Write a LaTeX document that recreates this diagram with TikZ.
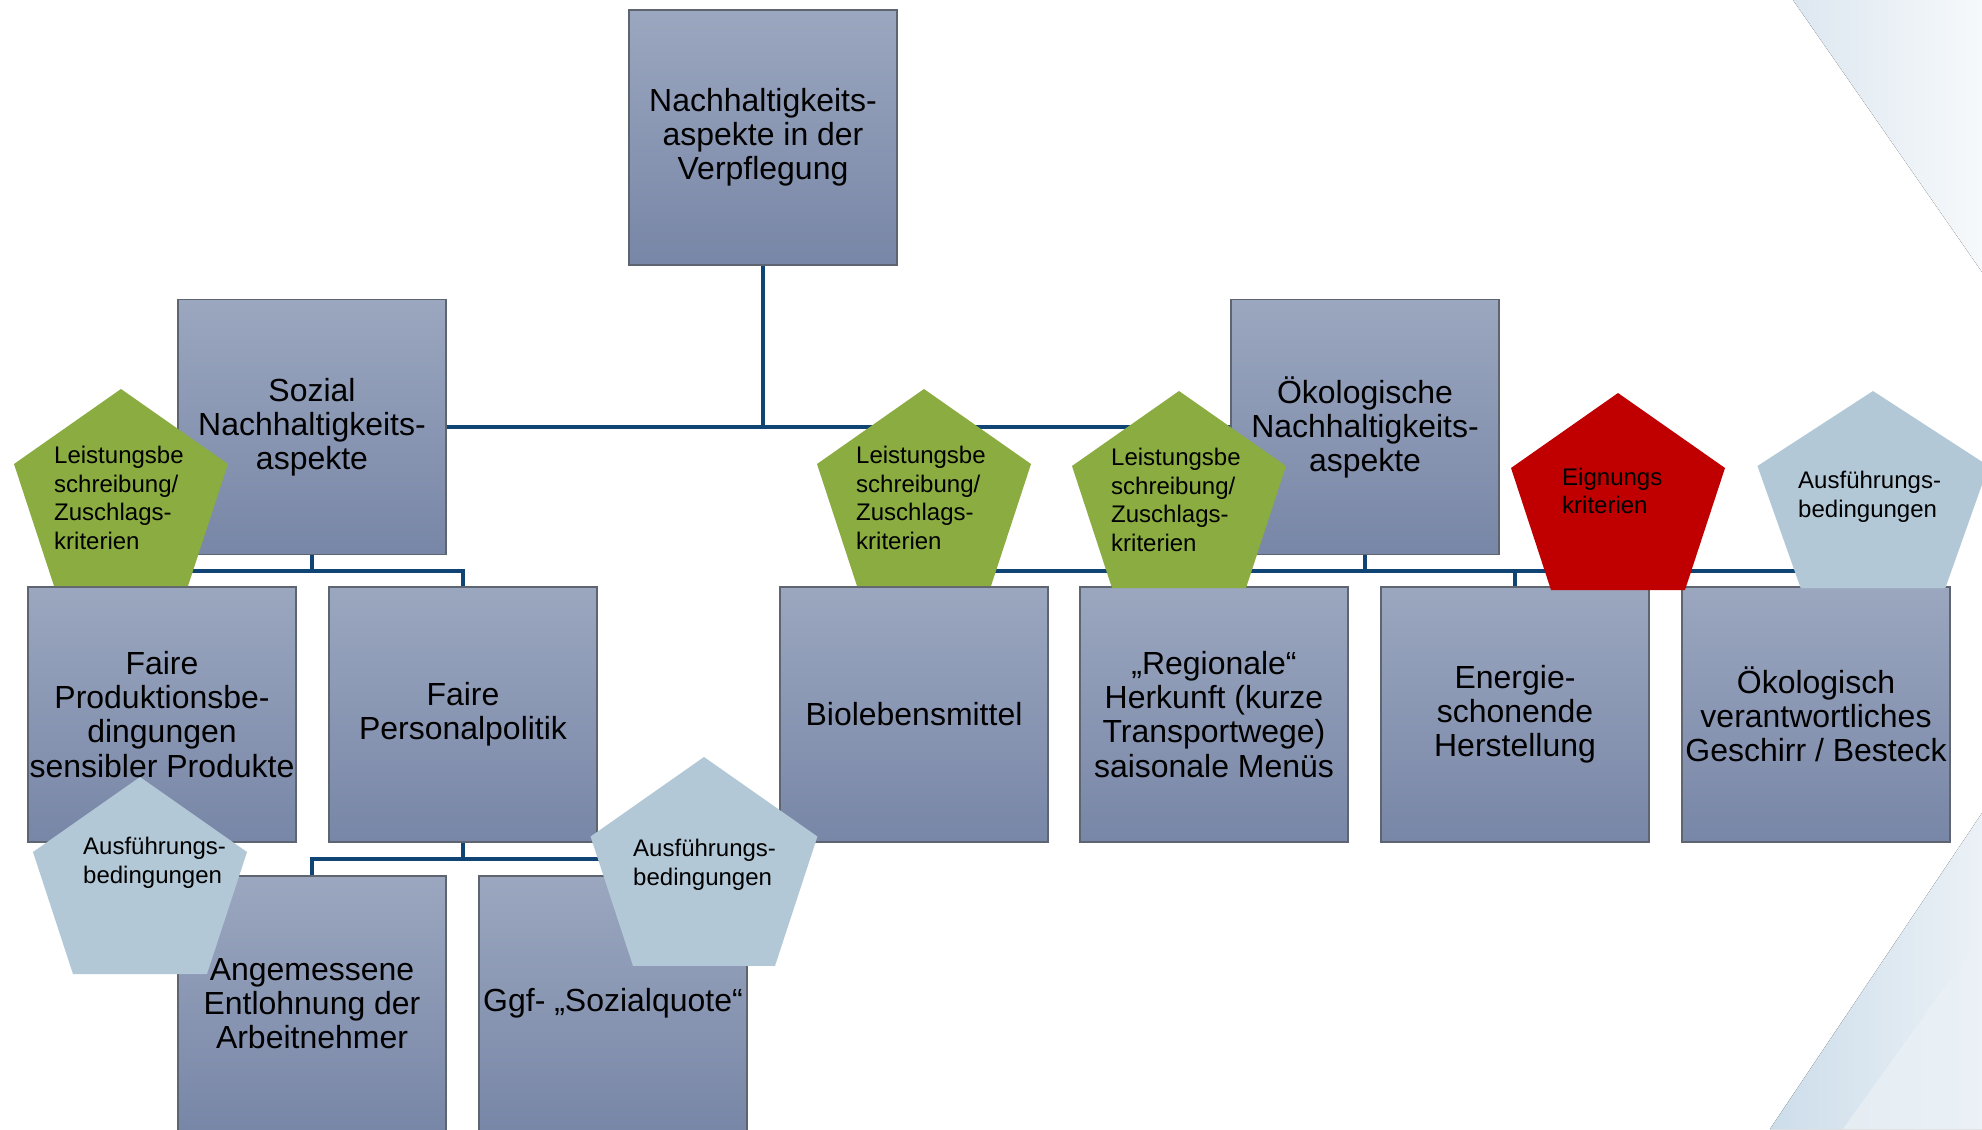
\documentclass[tikz,border=0pt]{standalone}
\usepackage{fontspec}
\setmainfont{Liberation Sans}
\usetikzlibrary{calc}
\definecolor{boxtop}{HTML}{9BA7BF}
\definecolor{boxbot}{HTML}{7886A7}
\definecolor{boxline}{HTML}{5E6570}
\definecolor{connc}{HTML}{0F4475}
\definecolor{pgreen}{HTML}{8AAC40}
\definecolor{pred}{HTML}{C00000}
\definecolor{pblue}{HTML}{B3C8D7}
\definecolor{bgA}{HTML}{DDE7F0}
\definecolor{bgB}{HTML}{F6F9FB}
\definecolor{bgC}{HTML}{CCDDEA}
\definecolor{bgD}{HTML}{EBF1F6}
\newcommand\mypent[5]{\fill[#1] (#2,#3) -- ++(107*#4,75*#5) -- ++(-40*#4,122*#5) -- ++(-134*#4,0) -- ++(-40*#4,-122*#5) -- cycle;}
\begin{document}
\begin{tikzpicture}[x=1bp,y=-1bp,
  box/.style={rectangle, minimum width=268bp, minimum height=255bp, inner sep=0pt,
    top color=boxtop, bottom color=boxbot, draw=boxline, line width=1.2bp,
    align=center, font=\fontsize{32.1}{34.2}\selectfont, text=black},
  connector/.style={draw=connc, line width=3.2bp},
  ptext/.style={anchor=west, align=left, inner sep=0pt, font=\fontsize{24.1}{28.6}\selectfont, text=black}]
\useasboundingbox (0,0) rectangle (1982,1129);
\fill[white] (0,0) rectangle (1982,1129);
% background streaks
\fill[left color=bgA, right color=bgB] (1793,0) -- (1982,0) -- (1982,272) -- cycle;
\fill[left color=bgC, right color=bgD] (1770,1129) -- (1982,813) -- (1982,1129) -- cycle;
\fill[bgD, opacity=0.7] (1843,1129) -- (1982,935) -- (1982,1129) -- cycle;
% boxes
\node[box] (top) at (763,137.5) {Nachhaltigkeits-\\aspekte in der\\Verpflegung};
\node[box] (soz) at (312,427) {Sozial\\Nachhaltigkeits-\\aspekte};
\node[box] (oek) at (1365,427) {Ökologische\\Nachhaltigkeits-\\aspekte};
\node[box] (fp) at (162,714.5) {Faire\\Produktionsbe-\\dingungen\\sensibler Produkte};
\node[box] (pp) at (463,714.5) {Faire\\Personalpolitik};
\node[box] (bio) at (914,714.5) {Biolebensmittel};
\node[box] (reg) at (1214,714.5) {„Regionale“\\Herkunft (kurze\\Transportwege)\\saisonale Menüs};
\node[box] (en) at (1515,714.5) {Energie-\\schonende\\Herstellung};
\node[box] (ok) at (1816,714.5) {Ökologisch\\verantwortliches\\Geschirr / Besteck};
\node[box] (ang) at (312,1003.5) {Angemessene\\Entlohnung der\\Arbeitnehmer};
\node[box] (ggf) at (613,1003.5) {Ggf- „Sozialquote“};
% connectors
\draw[connector] (soz.east) -- (oek.west);
\draw[connector] (top.south) -- (top.south |- soz.east);
\coordinate (b1) at (312,571);
\draw[connector] (soz.south) -- (b1);
\draw[connector] (fp.north) |- (b1) -| (pp.north);
\coordinate (b2) at (1365,571);
\draw[connector] (oek.south) -- (b2);
\draw[connector] (bio.north) |- (b2) -| (ok.north);
\draw[connector] (reg.north) -- (reg.north |- b2);
\draw[connector] (en.north) -- (en.north |- b2);
\coordinate (b3) at (463,859);
\draw[connector] (pp.south) -- (b3);
\draw[connector] (ang.north) |- (b3) -| (ggf.north);
% pentagons
\mypent{pgreen}{121}{389}{1}{1}
\node[ptext] (g1) at (54,498) {Leistungsbe\\schreibung/\\Zuschlags-\\kriterien};
\mypent{pgreen}{924}{389}{1}{1}
\node[ptext] (g2) at (856,498) {Leistungsbe\\schreibung/\\Zuschlags-\\kriterien};
\mypent{pgreen}{1179}{391}{1}{1}
\node[ptext] (g3) at (1111,500) {Leistungsbe\\schreibung/\\Zuschlags-\\kriterien};
\mypent{pred}{1618}{393}{1}{1}
\node[ptext] (r1) at (1562,491) {Eignungs\\kriterien};
\mypent{pblue}{1873}{391}{1.08}{1}
\node[ptext] (a1) at (1798,497) {Ausführungs-\\bedingungen};
\mypent{pblue}{140}{777}{1}{1}
\node[ptext] (a2) at (83,863) {Ausführungs-\\bedingungen};
\mypent{pblue}{704}{757}{1.06}{1.06}
\node[ptext] (a3) at (633,865) {Ausführungs-\\bedingungen};
\end{tikzpicture}
\end{document}
